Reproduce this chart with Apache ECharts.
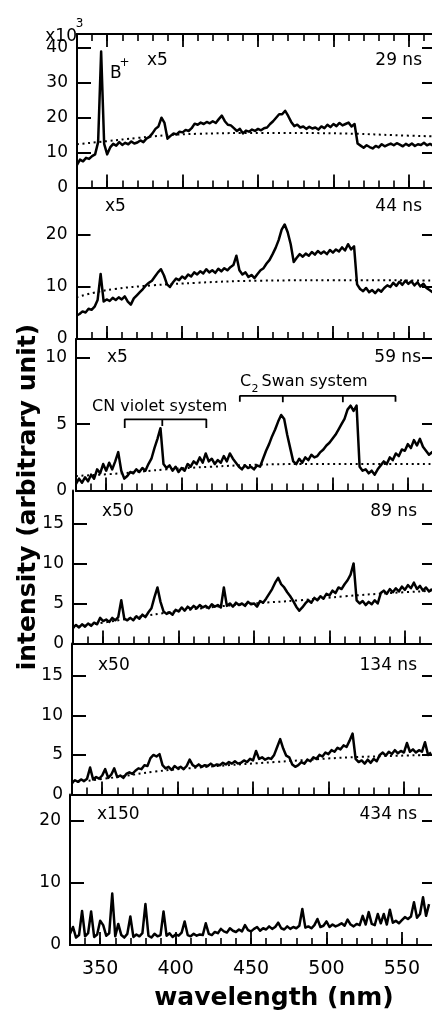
<!DOCTYPE html>
<html><head><meta charset="utf-8">
<script src="https://cdn.jsdelivr.net/npm/echarts@6/dist/echarts.min.js"></script>
<style>html,body{margin:0;padding:0;background:#fff}#c{width:432px;height:1010px}</style>
</head><body><div id="c"></div>
<script>
// ---------- DATA ----------
const wavelengths = [
330,332,334,336,338,340,342,344,346,348,
350,352,354,356,358,360,362,364,366,368,
370,372,374,376,378,380,382,384,386,388,
390,392,394,396,398,400,402,404,406,408,
410,412,414,416,418,420,422,424,426,428,
430,432,434,436,438,440,442,444,446,448,
450,452,454,456,458,460,462,464,466,468,
470,472,474,476,478,480,482,484,486,488,
490,492,494,496,498,500,502,504,506,508,
510,512,514,516,518,520,522,524,526,528,
530,532,534,536,538,540,542,544,546,548,
550,552,554,556,558,560,562,564,566,568];

const spec29ns = [
6.5,8,7.5,8.5,8.2,9,9.5,13,39,12.5,
9.5,11.5,12.5,12,13,12.2,12.8,12.4,13.2,12.6,
12.9,13.5,13,14,14.5,15.5,16.8,17.5,20,18.5,
14,14.8,15.5,15.2,16,15.8,16.5,16.2,17,18.3,
18,18.6,18.2,18.8,18.4,19,18.5,19.6,20.6,19,
18,17.8,17,16.2,16.8,15.5,16.3,16,16.6,16.2,
16.8,16.4,17,17.2,18.2,19,20,21,21,22,
20.5,18.8,17.6,18,17.2,17.5,16.8,17.4,16.9,17.2,
16.6,17.5,17,18,17.3,18.2,17.6,18.5,17.8,18.2,
18.6,17.5,18.2,12.6,12,11.4,12.1,11.6,11.2,11.9,
11.5,12.4,11.8,12.2,12.6,12.1,12.7,12.3,11.8,12.5,
12,12.6,11.9,12.4,12.2,12.8,12.1,12.5,12,12.3];

const spec44ns = [
4.5,4.8,5.3,5.1,5.8,5.6,6.2,7.5,12.5,7.2,
7.6,7.3,7.9,7.5,8,7.6,8.2,7.2,6.6,7.8,
8.4,9,9.6,10.3,10.8,11.2,12,12.8,13.4,12.2,
10.5,10,10.9,11.6,11.3,12,11.6,12.4,12,12.8,
12.4,13,12.6,13.4,12.8,13.2,12.7,13.5,13,13.6,
13.2,13.8,14.2,16,13.2,12.4,12.8,11.9,12.3,11.7,
12.5,13.2,13.6,14.5,15.2,16.3,17.5,19,21,22,
20.5,18.2,14.8,15.6,16.3,15.8,16.4,16,16.7,16.2,
16.9,16.4,16.8,16.3,17.1,16.6,17.2,16.8,17.6,17,
18.2,17.2,17.8,10.5,9.6,9.2,9.8,9,9.4,8.8,
9.5,9.1,9.8,10.3,10,10.8,10.2,11,10.4,11.2,
10.6,11.1,10.3,10.9,10.1,10.6,9.8,9.4,9,9.2];

const spec59ns = [
0.5,0.9,0.6,1.0,0.7,1.2,0.9,1.6,1.3,2.0,
1.5,2.1,1.6,2.2,2.9,1.5,0.9,1.1,1.4,1.3,
1.6,1.4,1.7,1.5,2.0,2.4,3.2,3.9,4.7,2.0,
1.7,1.9,1.5,1.8,1.4,1.7,1.5,2.0,1.8,2.2,
2.0,2.5,2.1,2.8,2.2,2.4,2.0,2.3,2.1,2.6,
2.2,2.8,2.4,2.1,1.8,1.6,1.9,1.7,1.8,1.6,
1.9,1.8,2.4,3.0,3.5,4.1,4.6,5.2,5.7,5.4,
4.2,3.2,2.2,2.0,2.4,2.1,2.5,2.3,2.7,2.5,
2.6,2.9,3.1,3.4,3.6,3.9,4.2,4.6,5.0,5.4,
6.1,6.4,6.0,6.4,1.8,1.5,1.6,1.3,1.5,1.2,
1.6,1.9,2.2,2.0,2.5,2.3,2.8,2.6,3.1,3.0,
3.5,3.2,3.8,3.4,3.9,3.3,3.0,2.7,2.9,2.5];

const spec89ns = [
2.0,2.3,2.0,2.4,2.1,2.5,2.2,2.6,2.4,3.2,
2.8,3.0,2.7,3.2,2.9,3.3,5.4,3.1,2.9,3.2,
2.9,3.4,3.1,3.6,3.3,3.9,4.4,5.8,7.0,5.2,
4.0,3.7,3.9,3.6,4.2,4.0,4.5,4.1,4.6,4.3,
4.7,4.4,4.8,4.5,4.7,4.4,4.9,4.6,4.8,4.5,
7.0,4.7,5.0,4.6,5.1,4.8,5.0,4.7,5.2,4.9,
5.0,4.6,5.3,5.1,5.6,6.2,6.8,7.6,8.2,7.4,
7.0,6.4,5.9,5.3,4.6,4.1,4.5,5.0,5.4,5.1,
5.7,5.4,5.9,5.6,6.2,6.0,6.6,6.3,7.0,6.8,
7.4,7.9,8.6,10.0,5.4,5.0,5.3,4.8,5.2,4.9,
5.4,5.0,6.3,6.6,6.2,6.8,6.4,6.9,6.5,7.1,
6.7,7.3,6.9,7.6,6.8,7.2,6.6,7.0,6.5,6.8];

const spec134ns = [
1.5,1.8,1.6,1.9,1.7,2.0,3.4,1.9,2.2,2.0,
2.4,3.2,2.1,2.5,3.3,2.2,2.4,2.1,2.6,2.8,
2.6,3.0,3.3,3.2,3.7,3.6,4.6,5.0,4.8,5.1,
3.7,3.3,3.5,3.1,3.6,3.3,3.5,3.2,3.6,4.4,
3.7,3.5,3.8,3.5,3.7,3.6,3.9,3.6,3.8,3.7,
4.0,3.8,4.1,3.9,4.2,3.9,4.0,4.3,4.1,4.5,
4.3,5.5,4.5,4.7,4.4,4.6,4.5,5.0,6.0,7.0,
5.8,4.9,4.7,3.8,3.5,3.7,4.1,3.9,4.4,4.2,
4.7,4.5,5.0,4.8,5.3,5.1,5.6,5.4,5.9,5.7,
6.2,6.0,6.8,7.7,4.5,4.1,4.3,3.9,4.4,4.0,
4.5,4.2,5.0,5.3,4.9,5.4,5.1,5.6,5.2,5.5,
5.3,6.5,5.4,5.7,5.3,5.6,5.4,6.6,5.0,5.3];

const spec434ns = [
1.8,2.9,1.2,1.6,5.5,1.4,1.9,5.4,1.3,1.7,
3.9,3.2,1.5,1.9,8.3,1.4,3.4,1.6,1.2,1.8,
4.6,1.3,1.7,1.4,1.9,6.6,1.5,1.2,1.8,1.4,
1.6,5.4,1.5,1.9,1.3,1.7,1.5,2.0,3.8,1.6,
1.4,1.8,1.5,1.7,1.6,3.5,1.8,1.6,2.1,1.9,
2.6,2.2,2.0,2.7,2.3,2.1,2.5,2.2,3.2,2.4,
2.2,2.6,2.9,2.3,2.7,2.5,3.0,2.6,2.9,3.6,
2.7,2.5,3.0,2.6,2.9,2.7,3.1,5.8,2.8,3.0,
2.7,3.2,4.2,2.9,3.1,3.8,2.9,3.3,3.0,3.2,
3.5,3.1,4.1,3.3,3.0,3.4,3.2,4.7,3.3,5.3,
3.4,3.2,5.0,3.5,5.0,3.3,5.7,3.6,3.9,3.5,
4.0,4.5,4.2,4.6,6.9,4.4,5.0,7.7,4.7,6.6];

// dotted continuum baselines [wavelength, intensity]
const base29ns = [[330,12.4],[350,13.3],[370,14.2],[390,15],[410,15.4],[440,15.6],[480,15.6],[515,15.4],[540,15],[570,14.6]];
const base44ns = [[330,8],[340,8.8],[355,9.6],[380,10.3],[410,10.8],[450,11.2],[520,11.3],[570,11.2]];
const base59ns = [[330,1.1],[360,1.3],[390,1.6],[420,1.8],[450,1.95],[480,2.0],[570,2.0]];
const base89ns = [[330,2.0],[360,2.9],[390,3.8],[420,4.5],[450,5.0],[480,5.4],[510,5.9],[540,6.3],[570,6.6]];
const base134ns = [[330,1.5],[360,2.2],[385,2.9],[420,3.5],[465,4.1],[515,4.7],[570,5.0]];

// band-system brackets (panel 59 ns)
const cnBracket = [[362.3,4.72],[362.3,5.37],[387.2,5.37],[387.2,4.87],[387.2,5.37],[416.4,5.37],[416.4,4.72]];
const c2Bracket = [[438.6,6.7],[438.6,7.13],[467.1,7.13],[467.1,6.65],[467.1,7.13],[506.9,7.13],[506.9,6.65],[506.9,7.13],[541.8,7.13],[541.8,6.7]];

// axis ticks
const xMajorTicks = [350,400,450,500,550];
const xMinorTicks = [340,350,360,370,380,390,400,410,420,430,440,450,460,470,480,490,500,510,520,530,540,550,560];
const yTicks29ns = [0,10,20,30,40];
const yTicks44ns = [0,10,20];
const yTicks59ns = [0,5,10];
const yTicks89ns = [0,5,10,15];
const yTicks134ns = [0,5,10,15];
const yTicks434ns = [0,10,20];
const yMaxes = [44, 29.1, 11.42, 19.1, 19.07, 24.27];

// ---------- LAYOUT ----------
const FONT = '"DejaVu Sans"';
const SLOPE = 1.517;      // px per nm
const RIGHT_EDGE = 434;
const layout = [
  {left:77,   top:34,    height:153.5},
  {left:76.5, top:187.5, height:151.5},
  {left:76,   top:339,   height:151.6},
  {left:73,   top:490.6, height:152.9},
  {left:72,   top:643.5, height:151},
  {left:70,   top:794.5, height:150.5}
];
const panels = [
  {spec:spec29ns,  base:base29ns,  yTicks:yTicks29ns},
  {spec:spec44ns,  base:base44ns,  yTicks:yTicks44ns},
  {spec:spec59ns,  base:base59ns,  yTicks:yTicks59ns},
  {spec:spec89ns,  base:base89ns,  yTicks:yTicks89ns},
  {spec:spec134ns, base:base134ns, yTicks:yTicks134ns},
  {spec:spec434ns, base:null,      yTicks:yTicks434ns}
];

const BLACK = '#000';
const grid=[], xAxis=[], yAxis=[], series=[];
panels.forEach((p,i)=>{
  const L = layout[i];
  grid.push({left:L.left, top:L.top, width:RIGHT_EDGE-L.left, height:L.height});
  const xMax = 330 + (RIGHT_EDGE-L.left)/SLOPE;
  const xBase = {type:'value', gridIndex:i, min:330, max:xMax,
    axisLine:{show:true, onZero:false, lineStyle:{color:BLACK, width:2}},
    splitLine:{show:false}, axisLabel:{show:false}};
  const xIdx = xAxis.length;
  const positions = i===0 ? ['bottom','top'] : ['bottom'];
  positions.forEach(pos=>{
    xAxis.push(Object.assign({}, xBase, {position:pos,
      axisTick:{show:true, inside:true, length:7, customValues:xMinorTicks, lineStyle:{color:BLACK, width:1.6}}}));
    xAxis.push(Object.assign({}, xBase, {position:pos,
      axisTick:{show:true, inside:true, length:13, customValues:xMajorTicks, lineStyle:{color:BLACK, width:1.8}},
      axisLabel:(i===5 && pos==='bottom') ? {show:true, customValues:xMajorTicks, color:BLACK, fontFamily:FONT, fontSize:19, margin:15} : {show:false}}));
  });
  const yIdx = yAxis.length;
  yAxis.push({type:'value', gridIndex:i, position:'left', min:0, max:yMaxes[i],
    axisLine:{show:true, onZero:false, lineStyle:{color:BLACK, width:2}},
    axisTick:{show:true, inside:true, length:14, customValues:p.yTicks, lineStyle:{color:BLACK, width:2}},
    axisLabel:{show:true, customValues:p.yTicks, color:BLACK, fontFamily:FONT, fontSize:17, margin:9},
    splitLine:{show:false}});
  yAxis.push({type:'value', gridIndex:i, position:'right', min:0, max:yMaxes[i],
    axisLine:{show:false},
    axisTick:{show:true, inside:true, length:10, customValues:p.yTicks, lineStyle:{color:BLACK, width:2}},
    axisLabel:{show:false}, splitLine:{show:false}});
  if (p.base) {
    series.push({type:'line', xAxisIndex:xIdx, yAxisIndex:yIdx, data:p.base, symbol:'none', smooth:0.4,
      lineStyle:{color:BLACK, width:2, type:[2,3.6]}, z:2, silent:true, clip:true});
  }
  series.push({type:'line', xAxisIndex:xIdx, yAxisIndex:yIdx,
    data:wavelengths.map((w,k)=>[w, p.spec[k]]), symbol:'none',
    lineStyle:{color:BLACK, width:2.5, join:'round'}, z:3, silent:true, clip:true});
  if (i===2) {
    [cnBracket, c2Bracket].forEach(b=>{
      series.push({type:'line', xAxisIndex:xIdx, yAxisIndex:yIdx, data:b, symbol:'none',
        lineStyle:{color:BLACK, width:1.8}, z:4, silent:true});
    });
  }
});

function T(text, x, y, o){
  o = o || {};
  return {type:'text', x:x, y:y, rotation:o.rot||0, silent:true, z:10,
    style:{text:text, fill:BLACK, align:o.align||'left', verticalAlign:'middle',
      font:(o.weight||'normal')+' '+(o.size||17)+'px "DejaVu Sans"'}};
}
const graphics = [
  T('x10', 77, 36.5, {align:'right'}),
  T('3', 79.5, 24, {align:'center', size:12}),
  T('B', 110, 74),
  T('+', 124.5, 63, {align:'center', size:12}),
  T('x5', 147, 61),
  T('29 ns', 422, 61, {align:'right'}),
  T('x5', 105, 206.5),
  T('44 ns', 422, 206.5, {align:'right'}),
  T('x5', 107, 357.5),
  T('59 ns', 421, 357.5, {align:'right'}),
  T('C', 240, 381.5, {size:16}),
  T('2', 251.5, 389, {size:11}),
  T('Swan system', 261.5, 381.5, {size:16}),
  T('CN violet system', 92, 406.5, {size:16}),
  T('x50', 102, 511.5),
  T('89 ns', 417, 511.5, {align:'right'}),
  T('x50', 98, 665.5),
  T('134 ns', 417, 665.5, {align:'right'}),
  T('x150', 97, 815),
  T('434 ns', 417, 815, {align:'right'}),
  T('intensity (arbitrary unit)', 28, 497, {align:'center', weight:'bold', size:25, rot:Math.PI/2}),
  T('wavelength (nm)', 274, 998.5, {align:'center', weight:'bold', size:25})
];

const chart = echarts.init(document.getElementById('c'), null, {renderer:'canvas', width:432, height:1010});
chart.setOption({animation:false, backgroundColor:'#fff', grid, xAxis, yAxis, series, graphic:graphics});
</script>
</body></html>
